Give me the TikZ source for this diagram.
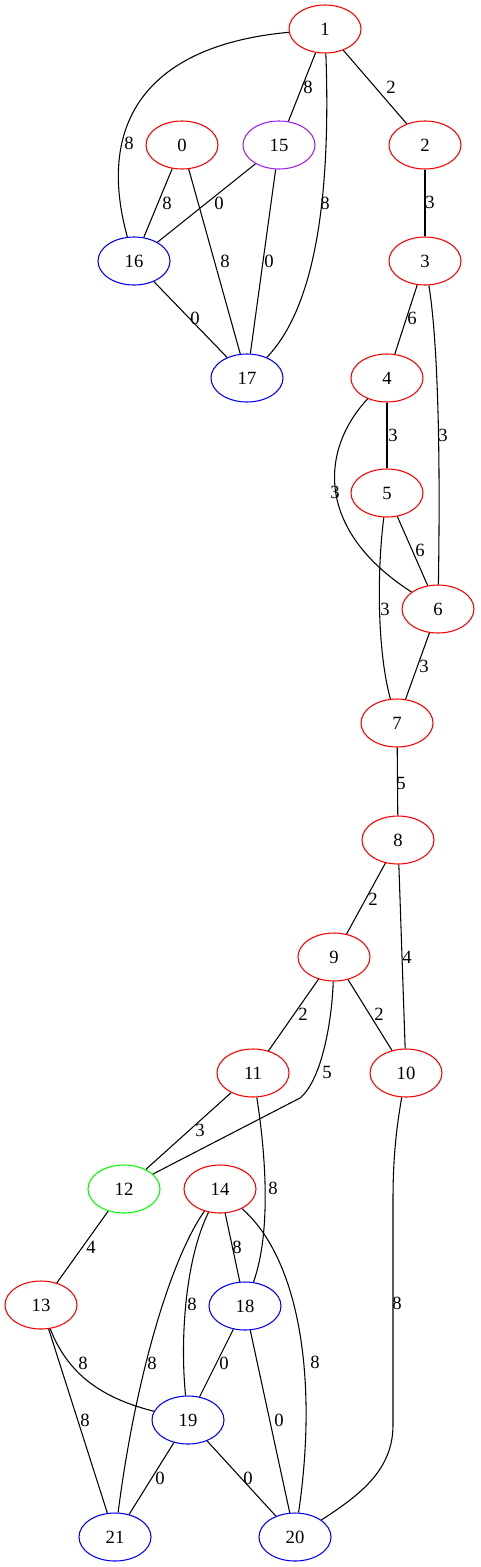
\documentclass[tikz,border=0pt]{standalone}
\usepackage{fontspec}
\setmainfont{Liberation Serif}
\usetikzlibrary{shapes.geometric}
\definecolor{gvpurple}{HTML}{A020F0}
\definecolor{gvgreen}{HTML}{00FF00}

\begin{document}
\begin{tikzpicture}[x=0.75pt,y=-0.75pt,
	vtx/.style={ellipse,draw,line width=0.8pt,minimum width=54pt,minimum height=36pt,inner sep=0pt,font=\fontsize{14}{16}\selectfont},
	lbl/.style={inner sep=0pt,font=\fontsize{14}{16}\selectfont},
	edge/.style={line width=0.8pt}]
	\useasboundingbox (0,0) rectangle (480,1567);
	\foreach \n/\x/\y/\c in {1/325/29/red, 0/182/145/red, 15/279/145/gvpurple, 2/425/145/red,
		16/134/261/blue, 3/425/261/red, 17/247/378/blue, 4/387/378/red, 5/387/493/red,
		6/438/609/red, 7/397/723/red, 8/398/840/red, 9/334/957/red, 11/253/1073/red,
		10/406/1073/red, 12/124/1189/gvgreen, 14/220/1189/red, 13/41/1305/red,
		18/245/1306/blue, 19/188/1420/blue, 21/115/1537/blue, 20/295/1537/blue}{
		\node[vtx,draw=\c] (n\n) at (\x,\y) {\n};
	}
	\foreach \a/\b/\w/\lx/\ly in {1/15/8/308/87, 1/2/2/391/87, 0/16/8/167/203, 0/17/8/225/261,
		15/16/0/219/203, 15/17/0/269/261, 16/17/0/195/318, 2/3/3/430/202, 3/4/6/412/318,
		4/5/3/393/435, 5/6/6/420/550, 6/7/3/424/666, 7/8/5/401/783, 8/9/2/373/899,
		8/10/4/407/957, 9/11/2/303/1014, 9/10/2/379/1014, 11/12/3/200/1130, 12/13/4/91/1247,
		14/18/8/237/1247, 13/21/8/85/1420, 18/19/0/224/1363, 18/20/0/279/1420,
		19/21/0/160/1478, 19/20/0/248/1478}{
		\draw[edge] (n\a) -- (n\b) node[lbl] at (\lx,\ly) {\w};
	}
	% curved edges
	\draw[edge] (n1) .. controls (150,45) and (95,120) .. (n16) node[lbl] at (129,143) {8};
	\draw[edge] (n1) .. controls (330,170) and (322,300) .. (n17) node[lbl] at (325,203) {8};
	\draw[edge] (n3) .. controls (436,330) and (441,420) .. (n6) node[lbl] at (443,435) {3};
	\draw[edge] (n4) .. controls (320,450) and (315,530) .. (n6) node[lbl] at (335,492) {3};
	\draw[edge] (n5) .. controls (377,570) and (377,650) .. (n7) node[lbl] at (385,609) {3};
	\draw[edge] (n9) .. controls (332,1020) and (322,1080) .. (300,1098) -- (n12) node[lbl] at (327,1072) {5};
	\draw[edge] (n11) .. controls (265,1150) and (272,1230) .. (n18) node[lbl] at (273,1188) {8};
	\draw[edge] (n10) .. controls (396,1130) and (393,1160) .. (393,1200) -- (393,1425)
		.. controls (393,1470) and (360,1495) .. (n20) node[lbl] at (397,1303) {8};
	\draw[edge] (n14) .. controls (185,1260) and (180,1340) .. (n19) node[lbl] at (192,1304) {8};
	\draw[edge] (n14) .. controls (170,1260) and (135,1380) .. (n21) node[lbl] at (152,1363) {8};
	\draw[edge] (n14) .. controls (300,1260) and (318,1380) .. (n20) node[lbl] at (315,1362) {8};
	\draw[edge] (n13) .. controls (70,1380) and (110,1400) .. (n19) node[lbl] at (83,1363) {8};
\end{tikzpicture}
\end{document}
